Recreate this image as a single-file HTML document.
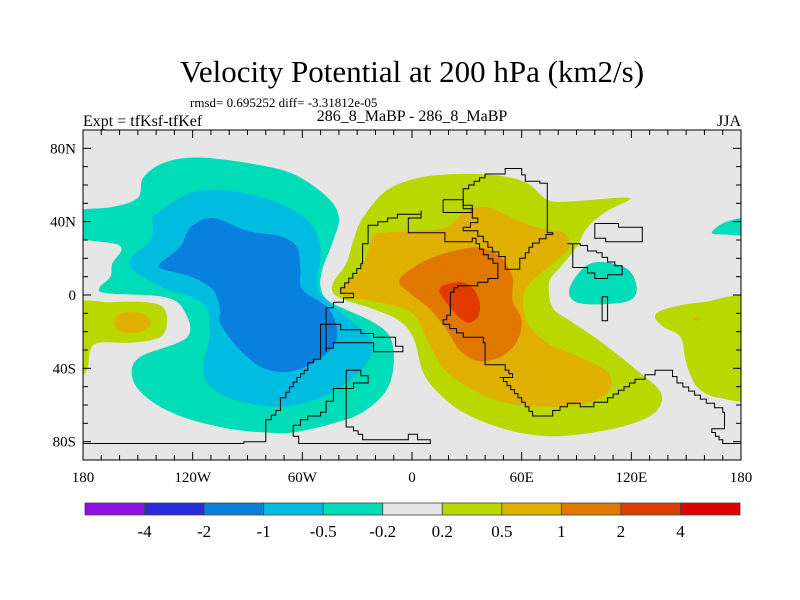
<!DOCTYPE html>
<html><head><meta charset="utf-8"><style>
html,body{margin:0;padding:0;background:#fff;}
svg{display:block;font-family:"Liberation Serif",serif;}
</style></head><body>
<svg id="chart" width="800" height="600" viewBox="0 0 800 600" xmlns="http://www.w3.org/2000/svg">
<text x="412" y="82" font-size="31" text-anchor="middle">Velocity Potential at 200 hPa (km2/s)</text>
<text x="190" y="107" font-size="13">rmsd= 0.695252 diff= -3.31812e-05</text>
<text x="83" y="126" font-size="16">Expt = tfKsf-tfKef</text>
<text x="412" y="121" font-size="16" text-anchor="middle">286_8_MaBP - 286_8_MaBP</text>
<text x="741" y="126" font-size="16" text-anchor="end">JJA</text>
<defs><clipPath id="plotclip"><rect x="83" y="130" width="658" height="330"/></clipPath></defs>
<rect x="83" y="130" width="658" height="330" fill="#e6e6e6"/>
<g id="fills" clip-path="url(#plotclip)"></g>
<g id="coast" clip-path="url(#plotclip)"></g>
<rect x="83" y="130" width="658" height="330" fill="none" stroke="#000" stroke-width="1"/>
<g id="ticks"></g>
<g id="colorbar"></g>
</svg>
<script>
const levelColors = ["#8a10e6","#2a2ae0","#0a80de","#00bce0","#00dcb8","#e6e6e6","#b8d800","#e0b000","#e07800","#e03c00","#e00000"];
const levelLabels = ["-4","-2","-1","-0.5","-0.2","0.2","0.5","1","2","4"];
const lonTicks = [-180,-120,-60,0,60,120,180];
const lonTickLabels = ["180","120W","60W","0","60E","120E","180"];
const latTicks = [80,40,0,-40,-80];
const latTickLabels = ["80N","40N","0","40S","80S"];

const tealWest = [[-186,32],[-160,27],[-164,17],[-165,10],[-171,4],[-167,1],[-136,-1],[-125,-8],[-123,-23],[-149,-34],[-153,-45],[-145,-56],[-127,-66],[-100,-73],[-79,-75],[-65,-75],[-43,-70],[-27,-64],[-14,-52],[-10,-37],[-12,-23],[-21,-15],[-36,-8],[-46,-3],[-50,4],[-49,14],[-43,30],[-40,42],[-46,53],[-65,66],[-90,72],[-118,75],[-136,72],[-147,64],[-150,53],[-164,48],[-186,45]];
const cyanWest = [[-143,42],[-120,56],[-94,56],[-68,48],[-54,37],[-50,23],[-52,8],[-50,1],[-36,-12],[-23,-23],[-23,-34],[-32,-45],[-50,-56],[-72,-61],[-98,-57],[-112,-48],[-114,-37],[-111,-23],[-112,-8],[-121,-1],[-136,4],[-153,14],[-153,21],[-143,30],[-142,41]];
const blueWest = [[-138,17],[-127,26],[-121,37],[-109,42],[-90,35],[-72,32],[-63,26],[-61,14],[-60,3],[-46,-7],[-41,-19],[-43,-28],[-54,-37],[-68,-42],[-83,-39],[-96,-28],[-105,-15],[-105,-8],[-109,3],[-121,10],[-136,14]];
const greenDateline = [[-186,-7],[-164,-4],[-145,-4],[-136,-7],[-134,-15],[-138,-23],[-154,-26],[-171,-26],[-176,-30],[-178,-41],[-186,-48]];
const greenPacific = [[133,-11],[141,-7],[159,-4],[186,-4],[186,-53],[168,-56],[156,-50],[150,-37],[147,-23],[137,-17]];
const orangeDateline = [[-163,-15],[-159,-10],[-148,-10],[-143,-15],[-148,-20],[-159,-20]];
const orangePacificDot = [[154,-13],[156,-12],[158,-13],[156,-14]];
const tealEast = [[86,3],[94,15],[104,18],[118,14],[123,4],[119,-3],[104,-5],[90,-4]];
const tealEdge = [[164,34],[172,40],[186,42],[186,33],[172,33]];
const greenMain = [[-43,7],[-36,17],[-32,30],[-27,42],[-14,57],[4,64],[26,66],[48,65],[63,61],[74,52],[86,51],[114,53],[119,52],[107,46],[96,37],[90,26],[81,15],[75,7],[77,-7],[88,-15],[104,-26],[123,-41],[136,-53],[134,-63],[121,-70],[99,-75],[74,-77],[50,-73],[28,-64],[14,-53],[6,-42],[1,-24],[-7,-14],[-23,-7],[-36,-3],[-43,1]];
const orangeMain = [[-39,4],[-28,14],[-21,32],[-14,34],[1,35],[19,37],[30,46],[41,48],[55,42],[68,37],[83,34],[86,26],[77,17],[66,8],[61,-1],[63,-15],[74,-26],[92,-34],[107,-42],[108,-52],[96,-59],[74,-61],[52,-59],[36,-53],[19,-42],[10,-28],[4,-15],[-3,-8],[-23,-3],[-36,-1]];
const darkOrangeMain = [[-7,8],[4,17],[19,23],[36,26],[48,21],[55,10],[55,-3],[60,-14],[57,-26],[48,-34],[36,-36],[26,-30],[19,-19],[10,-8],[-1,1]];
const redOrangeCore = [[15,3],[25,7],[33,4],[37,-4],[36,-12],[30,-15],[22,-8]];

const regions = [
  ["teal-west",4,tealWest],["cyan-west",3,cyanWest],["blue-west",2,blueWest],
  ["green-dateline",6,greenDateline],["orange-dateline",7,orangeDateline],
  ["green-pacific",6,greenPacific],["orange-pacific-dot",7,orangePacificDot],
  ["teal-east",4,tealEast],["teal-edge",4,tealEdge],
  ["green-main",6,greenMain],["orange-main",7,orangeMain],["darkorange-main",8,darkOrangeMain],["redorange-core",9,redOrangeCore]
];

const coastMain = [[-43,-4],[-32,1],[-39,4],[-28,17],[-27,28],[-24,38],[-8,44],[5,46],[5,42],[-2,39],[-2,34],[17,34],[18,29],[33,31],[39,22],[47,15],[47,9],[36,5],[25,4],[21,-1],[21,-11],[17,-16],[28,-23],[39,-26],[40,-38],[51,-41],[55,-45],[48,-45],[58,-56],[66,-66],[77,-63],[85,-59],[92,-61],[107,-56],[122,-46],[133,-41],[140,-41],[145,-48],[161,-59],[170,-64],[171,-73],[164,-75],[170,-81],[180,-81]];
const coastNorth = [[28,37],[36,42],[33,47],[28,48],[28,58],[40,66],[51,66],[51,69],[58,69],[62,62],[70,61],[74,58],[74,34],[77,33],[66,26],[62,20],[59,14],[51,15],[51,21],[44,26],[39,32],[36,35],[28,37]];
const coastIsle1 = [[17,52],[21,52],[28,49],[33,48],[33,45],[21,45],[17,46],[17,52]];
const coastEast = [[85,28],[92,27],[96,24],[101,23],[107,18],[115,14],[115,11],[110,11],[107,9],[100,9],[100,12],[96,15],[88,17],[88,28],[85,28]];
const coastRect = [[100,39],[113,39],[113,37],[126,37],[126,29],[106,29],[106,31],[100,31],[100,39]];
const coastThin = [[104,-1],[107,-1],[107,-14],[104,-14],[104,-1]];
const coastSA = [[-50,-16],[-39,-16],[-39,-19],[-28,-19],[-28,-21],[-21,-21],[-21,-23],[-9,-23],[-9,-28],[-5,-28],[-5,-31],[-21,-31],[-21,-26],[-39,-26],[-43,-29],[-47,-31],[-47,-7],[-43,-4]];
const coastSouth = [[-50,-16],[-50,-35],[-54,-37],[-57,-41],[-61,-45],[-65,-50],[-69,-56],[-72,-63],[-77,-68],[-80,-72],[-80,-80],[-92,-80],[-92,-81],[-180,-81]];
const coastPen = [[-36,-41],[-28,-41],[-28,-44],[-24,-44],[-24,-48],[-32,-48],[-32,-51],[-43,-51],[-43,-58],[-47,-58],[-47,-64],[-50,-64],[-50,-66],[-57,-68],[-61,-71],[-65,-73],[-65,-77],[-62,-78],[-62,-81],[10,-81],[10,-79],[3,-79],[3,-76],[-2,-76],[-2,-79],[-24,-79],[-27,-76],[-32,-72],[-36,-70],[-36,-41]];
const coasts = [["coast-main",coastMain],["coast-north",coastNorth],["coast-isle",coastIsle1],["coast-east",coastEast],["coast-rect",coastRect],["coast-thin",coastThin],["coast-south-america",coastSA],["coast-south",coastSouth],["coast-peninsula",coastPen]];

const X0=83,X1=741,Y0=130,Y1=460;
function xScale(lon){return X0+(lon+180)/360*(X1-X0);}
function yScale(lat){return Y0+(90-lat)/180*(Y1-Y0);}
const NS="http://www.w3.org/2000/svg";
function mk(tag,attrs){const e=document.createElementNS(NS,tag);for(const k in attrs)e.setAttribute(k,attrs[k]);return e;}
function smoothPath(r){
  const P=r.map(p=>[xScale(p[0]),yScale(p[1])]);const n=P.length;
  let d="M"+P[0][0].toFixed(1)+","+P[0][1].toFixed(1);
  for(let i=0;i<n;i++){
    const p0=P[(i-1+n)%n],p1=P[i],p2=P[(i+1)%n],p3=P[(i+2)%n];
    const c1=[p1[0]+(p2[0]-p0[0])/6,p1[1]+(p2[1]-p0[1])/6];
    const c2=[p2[0]-(p3[0]-p1[0])/6,p2[1]-(p3[1]-p1[1])/6];
    d+="C"+c1[0].toFixed(1)+","+c1[1].toFixed(1)+" "+c2[0].toFixed(1)+","+c2[1].toFixed(1)+" "+p2[0].toFixed(1)+","+p2[1].toFixed(1);
  }
  return d+"Z";
}
function stepPath(r){
  const P=r.map(p=>[xScale(p[0]),yScale(p[1])]);
  let d="M"+P[0][0].toFixed(1)+","+P[0][1].toFixed(1);
  for(let i=1;i<P.length;i++){
    const a=P[i-1],b=P[i];
    const dx=Math.abs(b[0]-a[0]),dy=Math.abs(b[1]-a[1]);
    const steps=Math.max(1,Math.round(Math.min(dx,dy)/4));
    for(let s=1;s<=steps;s++){
      const x=a[0]+(b[0]-a[0])*s/steps,y=a[1]+(b[1]-a[1])*s/steps;
      d+="H"+x.toFixed(1)+"V"+y.toFixed(1);
    }
  }
  return d;
}

const fills=document.getElementById("fills");
regions.forEach(r=>{
  const p=mk("path",{d:smoothPath(r[2]),fill:levelColors[r[1]]});
  
  
  fills.appendChild(p);
});
const coast=document.getElementById("coast");
coasts.forEach(c=>{
  const p=mk("path",{d:stepPath(c[1]),fill:"none",stroke:"#000","stroke-width":"1"});
  
  
  coast.appendChild(p);
});

const ticks=document.getElementById("ticks");
for(let lon=-180;lon<=180;lon+=10){
  const major=lon%60===0, len=major?8:5, x=xScale(lon);
  const t1=mk("line",{x1:x,x2:x,y1:Y0,y2:Y0+len,stroke:"#000"});
  
  
  ticks.appendChild(t1);
  const t2=mk("line",{x1:x,x2:x,y1:Y1,y2:Y1-len,stroke:"#000"});
  
  
  ticks.appendChild(t2);
}
for(let lat=-80;lat<=80;lat+=10){
  const major=lat%40===0, len=major?8:5, y=yScale(lat);
  const t1=mk("line",{x1:X0,x2:X0+len,y1:y,y2:y,stroke:"#000"});
  
  
  ticks.appendChild(t1);
  const t2=mk("line",{x1:X1,x2:X1-len,y1:y,y2:y,stroke:"#000"});
  
  
  ticks.appendChild(t2);
}
lonTicks.forEach((lon,i)=>{
  const t=mk("text",{x:xScale(lon),y:482,"font-size":"15","text-anchor":"middle"});
  t.textContent=lonTickLabels[i];
  
  
  ticks.appendChild(t);
});
latTicks.forEach((lat,i)=>{
  const t=mk("text",{x:76,y:yScale(lat)+5,"font-size":"15","text-anchor":"end"});
  t.textContent=latTickLabels[i];
  
  
  ticks.appendChild(t);
});

const cb=document.getElementById("colorbar");
const CB0=85,CB1=740,CBY=503,CBH=12,bw=(CB1-CB0)/levelColors.length;
levelColors.forEach((c,i)=>{
  const r=mk("rect",{x:CB0+i*bw,y:CBY,width:bw,height:CBH,fill:c,stroke:"#444","stroke-width":"0.8"});
  
  
  cb.appendChild(r);
});
levelLabels.forEach((l,i)=>{
  const t=mk("text",{x:CB0+(i+1)*bw,y:537,"font-size":"17","text-anchor":"middle"});
  t.textContent=l;
  
  
  cb.appendChild(t);
});
</script>
</body></html>
